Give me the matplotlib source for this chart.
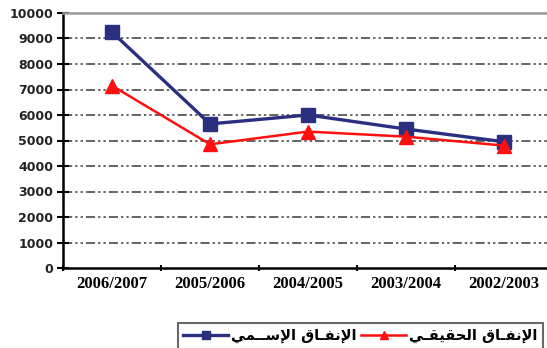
import numpy as np
import matplotlib.pyplot as plt
from matplotlib.ticker import FixedLocator

# Data
years = ['2006/2007', '2005/2006', '2004/2005', '2003/2004', '2002/2003']
nominal = [9250, 5650, 6000, 5450, 4950]   # blue squares
real = [7150, 4850, 5350, 5150, 4800]      # red triangles

# Arabic labels in visual order using presentation forms (matplotlib has no shaping)
w_infaq = '\uFED5\uFE8E\u0640\uFED4\uFEE7\uFEF9\uFE8D'
w_ismi = '\uFEF2\uFEE4\u0640\u0640\uFEB3\uFEF9\uFE8D'
w_haqiqi = '\uFEF2\u0640\uFED8\uFEF4\uFED8\uFEA4\uFEDF\uFE8D'
label_nominal = w_ismi + ' ' + w_infaq
label_real = w_haqiqi + ' ' + w_infaq

fig = plt.figure(figsize=(5.47, 3.48), dpi=100)
ax = fig.add_axes([63 / 547, 1 - 268 / 348, 490 / 547, 255 / 348])

x = np.arange(len(years))
ax.plot(x, nominal, color='#2A2F7F', lw=2.4, marker='s', ms=10,
        label=label_nominal, zorder=3)
ax.plot(x, real, color='#FF1010', lw=1.8, marker='^', ms=10,
        label=label_real, zorder=3)

ax.set_xlim(-0.5, 4.5)
ax.set_ylim(0, 10000)
ax.set_yticks(range(0, 10001, 1000))
ax.set_xticks(x)
ax.set_xticklabels(years, family='Liberation Serif', fontweight='bold', fontsize=12)
ax.xaxis.set_minor_locator(FixedLocator(np.arange(-0.5, 5, 1)))
ax.tick_params(axis='x', which='major', length=0, pad=6)
ax.tick_params(axis='x', which='minor', length=5, width=1.5, direction='inout')
ax.tick_params(axis='y', length=8, width=1.5, direction='inout', pad=3)
for t in ax.get_yticklabels():
    t.set_fontweight('bold')
    t.set_fontsize(9)
    t.set_color('#222222')

for y in range(1000, 10000, 1000):
    ax.axhline(y, color='#3a3a3a', lw=1.1, dashes=(6, 2, 1.5, 2, 1.5, 2), zorder=1)

ax.spines['left'].set_linewidth(1.8)
ax.spines['bottom'].set_linewidth(1.8)
ax.spines['top'].set_color('#999999')
ax.spines['top'].set_linewidth(1.8)
ax.spines['right'].set_visible(False)

leg = fig.legend(loc='upper left', bbox_to_anchor=(178 / 547, 1 - 323 / 348),
                 ncol=2, frameon=True, fancybox=False, borderaxespad=0,
                 prop={'family': 'DejaVu Sans', 'weight': 'bold', 'size': 10.5},
                 handlelength=3.1, columnspacing=0.3, handletextpad=0.2,
                 borderpad=0.35)
leg.get_frame().set_edgecolor('#444444')
leg.get_frame().set_linewidth(1.5)
for h in leg.legend_handles:
    h.set_markersize(6)

fig.savefig('out.png', dpi=100)
